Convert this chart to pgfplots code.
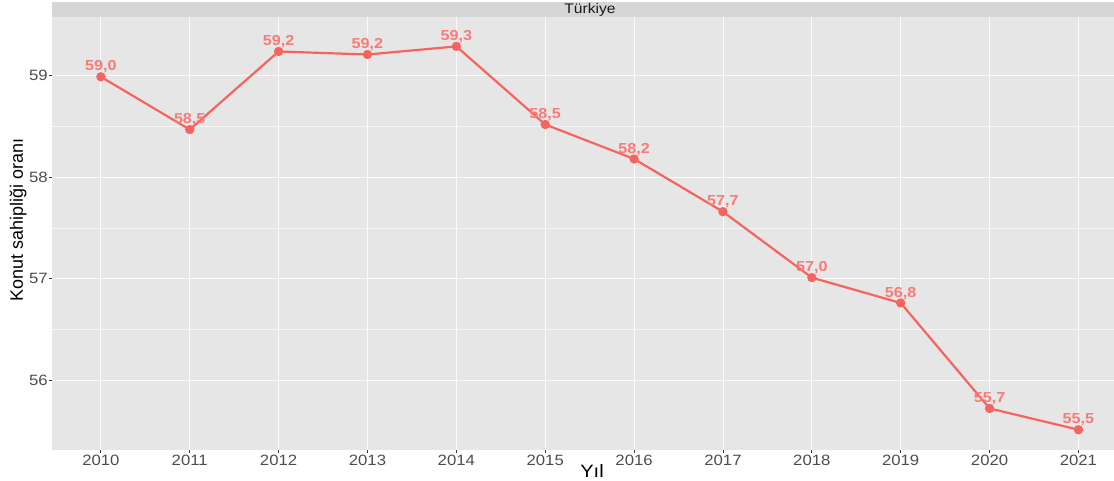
\documentclass[border=0pt]{standalone}
\usepackage{fontspec}
\setmainfont{Liberation Sans}
\newfontfamily\widefont[FakeStretch=1.12]{Liberation Sans}
\usepackage{pgfplots}
\pgfplotsset{compat=1.18}
\usepackage{pgfplotstable}
\definecolor{panelbg}{HTML}{E6E6E6}
\definecolor{stripbg}{HTML}{D6D6D6}
\definecolor{ticklab}{HTML}{4D4D4D}
\definecolor{tickcol}{HTML}{333333}
\definecolor{series}{HTML}{F5645F}
\pgfplotstableread{
x y lab
2010 58.99 59,0
2011 58.47 58,5
2012 59.24 59,2
2013 59.21 59,2
2014 59.29 59,3
2015 58.52 58,5
2016 58.18 58,2
2017 57.66 57,7
2018 57.01 57,0
2019 56.76 56,8
2020 55.72 55,7
2021 55.51 55,5
}\data
\begin{document}
\begin{tikzpicture}
\path[use as bounding box] (0,0) rectangle (1114bp,481bp);
\begin{axis}[
  at={(52bp,31bp)}, anchor=south west,
  scale only axis, width=1062bp, height=433bp,
  xmin=2009.45, xmax=2021.40, ymin=55.31, ymax=59.58,
  axis background/.style={fill=panelbg},
  axis line style={draw=none},
  xtick={2010,2011,...,2021}, ytick={56,57,58,59},
  minor x tick num=1, minor y tick num=1,
  grid=both,
  major grid style={white!85!panelbg, line width=0.9bp},
  minor grid style={white!60!panelbg, line width=0.5bp},
  tick pos=left, tick align=outside,
  major tick length=3bp, minor tick length=0pt,
  tick style={tickcol, line width=0.9bp},
  /pgf/number format/1000 sep={},
  /pgf/number format/assume math mode=true,
  xticklabel style={font=\widefont\fontsize{15}{18}\selectfont, text=ticklab, inner sep=0pt, yshift=-1.5bp},
  yticklabel style={font=\widefont\fontsize{15}{18}\selectfont, text=ticklab, inner sep=0pt, xshift=-1bp},
  clip=false,
]
\addplot[series, line width=2.2bp, mark=*, mark size=3.5bp,
  nodes near coords={\pgfplotspointmeta}, point meta=explicit symbolic,
  nodes near coords style={anchor=south, inner sep=0pt, yshift=2.5bp,
    font=\widefont\fontsize{14.5}{17}\selectfont\bfseries, text=series!85!white}]
  table[x=x, y=y, meta=lab] {\data};
\end{axis}
\fill[stripbg] (52bp,464bp) rectangle (1114bp,479bp);
\node[font=\widefont\fontsize{14}{16}\selectfont, text=black!90, inner sep=0pt] at (590bp,471.5bp) {Türkiye};
\node[font=\widefont\fontsize{18}{20}\selectfont, text=black, inner sep=0pt] at (592bp,10bp) {Yıl};
\node[font=\fontsize{18}{21}\selectfont, text=black, inner sep=0pt, rotate=90] at (18bp,261bp) {Konut sahipliği oranı};
\end{tikzpicture}
\end{document}
